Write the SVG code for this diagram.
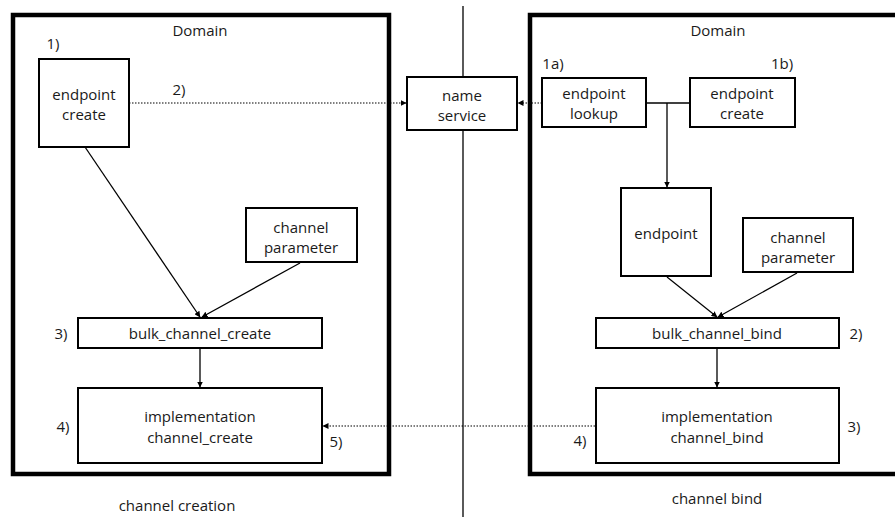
<svg xmlns="http://www.w3.org/2000/svg" width="895" height="518" viewBox="0 0 895 518">
<defs>
<marker id="ah" markerWidth="6" markerHeight="6" refX="5.5" refY="3" orient="auto" markerUnits="userSpaceOnUse">
<path d="M0,0 L6,3 L0,6 z" fill="#000"/>
</marker>
<style>
text{font-family:"Open Sans","Noto Sans","Liberation Sans",sans-serif;font-size:15px;fill:#1a1a1a;text-anchor:middle;dominant-baseline:central}
.box{fill:#fff;stroke:#000;stroke-width:2}
.dom{fill:none;stroke:#000;stroke-width:4.5}
.ln{fill:none;stroke:#000;stroke-width:1.3}
.dot{fill:none;stroke:#000;stroke-width:1.2;stroke-dasharray:1.5 1.5}
</style>
</defs>
<rect width="895" height="518" fill="#fff"/>
<line x1="463" y1="6" x2="463" y2="517" stroke="#000" stroke-width="1.3"/>
<g id="domain-left">
<rect class="dom" x="13" y="15" width="376" height="459"/>
<text x="200" y="30">Domain</text>
<text x="177" y="505">channel creation</text>
</g>
<g id="domain-right">
<rect class="dom" x="530" y="15" width="380" height="459"/>
<text x="718" y="30">Domain</text>
<text x="717" y="498">channel bind</text>
</g>
<g id="connectors">
<line class="dot" x1="129" y1="103" x2="406" y2="103" marker-end="url(#ah)"/>
<line class="dot" x1="542" y1="103" x2="518" y2="103" marker-end="url(#ah)"/>
<line class="dot" x1="595" y1="426" x2="323" y2="426" marker-end="url(#ah)"/>
<line class="ln" x1="85" y1="147" x2="200" y2="317" marker-end="url(#ah)"/>
<line class="ln" x1="300" y1="263" x2="202" y2="317" marker-end="url(#ah)"/>
<line class="ln" x1="200" y1="348" x2="200" y2="387" marker-end="url(#ah)"/>
<line class="ln" x1="646" y1="103" x2="690" y2="103"/>
<line class="ln" x1="667" y1="103" x2="667" y2="187" marker-end="url(#ah)"/>
<line class="ln" x1="667" y1="277" x2="717" y2="317" marker-end="url(#ah)"/>
<line class="ln" x1="797" y1="273" x2="718" y2="317" marker-end="url(#ah)"/>
<line class="ln" x1="717" y1="348" x2="717" y2="387" marker-end="url(#ah)"/>
</g>
<g id="name-service">
<rect class="box" x="407" y="77" width="110" height="53"/>
<text x="462" y="95">name</text>
<text x="462" y="115">service</text>
</g>
<g id="endpoint-create-left">
<rect class="box" x="39" y="59" width="90" height="88"/>
<text x="84" y="94">endpoint</text>
<text x="84" y="114">create</text>
<text x="53" y="43">1)</text>
<text x="179" y="89">2)</text>
</g>
<g id="channel-parameter-left">
<rect class="box" x="246" y="208" width="111" height="54"/>
<text x="301" y="227">channel</text>
<text x="301" y="247">parameter</text>
</g>
<g id="bulk-channel-create">
<rect class="box" x="78" y="318" width="244" height="30"/>
<text x="200" y="333">bulk_channel_create</text>
<text x="61" y="333">3)</text>
</g>
<g id="impl-channel-create">
<rect class="box" x="78" y="388" width="244" height="75"/>
<text x="200" y="416">implementation</text>
<text x="200" y="437">channel_create</text>
<text x="63" y="426">4)</text>
<text x="336" y="441">5)</text>
</g>
<g id="endpoint-lookup">
<rect class="box" x="542" y="78" width="104" height="49"/>
<text x="594" y="93">endpoint</text>
<text x="594" y="113">lookup</text>
<text x="553" y="63">1a)</text>
</g>
<g id="endpoint-create-right">
<rect class="box" x="690" y="78" width="105" height="49"/>
<text x="742" y="93">endpoint</text>
<text x="742" y="113">create</text>
<text x="782" y="63">1b)</text>
</g>
<g id="endpoint">
<rect class="box" x="621" y="188" width="90" height="88"/>
<text x="666" y="233">endpoint</text>
</g>
<g id="channel-parameter-right">
<rect class="box" x="743" y="218" width="110" height="54"/>
<text x="798" y="237">channel</text>
<text x="798" y="257">parameter</text>
</g>
<g id="bulk-channel-bind">
<rect class="box" x="596" y="318" width="243" height="30"/>
<text x="717" y="333">bulk_channel_bind</text>
<text x="856" y="333">2)</text>
</g>
<g id="impl-channel-bind">
<rect class="box" x="596" y="388" width="243" height="75"/>
<text x="717" y="416">implementation</text>
<text x="717" y="437">channel_bind</text>
<text x="854" y="426">3)</text>
<text x="580" y="440">4)</text>
</g>
</svg>
